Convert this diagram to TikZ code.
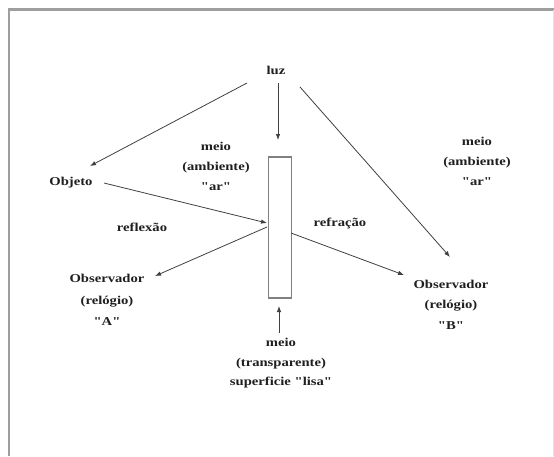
\documentclass[tikz,border=0pt]{standalone}
\usepackage{fontspec}
\newfontfamily\dfont[FakeStretch=1.22]{Liberation Serif}
\usetikzlibrary{arrows.meta}
\begin{document}
\begin{tikzpicture}[x=1pt,y=-1pt,
  lbl/.style={font=\dfont\bfseries\fontsize{12}{20}\selectfont, text=black!88, align=center, inner sep=0pt},
  ray/.style={draw=black!75, line width=0.8pt, -{Latex[length=6pt,width=4.5pt]}},
  frameline/.style={draw=black!38, line width=2.2pt},
  medium/.style={draw=black!50, line width=1.1pt, fill=white, minimum width=23pt, minimum height=141pt, inner sep=0pt}]
\useasboundingbox (0,0) rectangle (554,456);
% frame
\draw[frameline] (9,456) -- (9,9.5) -- (554,9.5);
\draw[draw=black!10, line width=0.8pt] (553,9.5) -- (553,456);
% medium (glass slab)
\node[medium] (slab) at (280,227.5) {};
% labels
\node[lbl] (luz) at (276,70) {luz};
\node[lbl] (meioL) at (216,166) {meio\\(ambiente)\\"ar"};
\node[lbl] (meioR) at (477,161) {meio\\(ambiente)\\"ar"};
\node[lbl] (objeto) at (71,183) {Objeto};
\node[lbl] (reflexao) at (142,227) {reflexão};
\node[lbl] (refracao) at (340,224) {refração};
\node[lbl, font=\dfont\bfseries\fontsize{12}{21.5}\selectfont] (obsA) at (107,300) {Observador\\(relógio)\\"A"};
\node[lbl, font=\dfont\bfseries\fontsize{12}{20.5}\selectfont] (obsB) at (451,304.5) {Observador\\(relógio)\\"B"};
\node[lbl, font=\dfont\bfseries\fontsize{12}{19.5}\selectfont] (meioT) at (281,363.5) {meio\\(transparente)\\superficie "lisa"};
% connector end points
\coordinate (luzL) at (247,83);
\coordinate (luzD) at (278,83);
\coordinate (luzR) at (300,87);
\coordinate (objTip) at (90,166);
\coordinate (slabTop) at (278,140);
\coordinate (bTip) at (450,257);
\coordinate (objOut) at (104,183);
\coordinate (hit) at (267,223);
\coordinate (reflOut) at (267,227);
\coordinate (aTip) at (155,276);
\coordinate (refrOut) at (291,233);
\coordinate (bTip2) at (404,275);
\coordinate (tOut) at (279,333);
\coordinate (slabBot) at (279,306);
% rays
\draw[ray] (luzL) -- (objTip);
\draw[ray] (luzD) -- (slabTop);
\draw[ray] (luzR) -- (bTip);
\draw[ray] (objOut) -- (hit);
\draw[ray] (reflOut) -- (aTip);
\draw[ray] (refrOut) -- (bTip2);
\draw[ray] (tOut) -- (slabBot);
\end{tikzpicture}
\end{document}
